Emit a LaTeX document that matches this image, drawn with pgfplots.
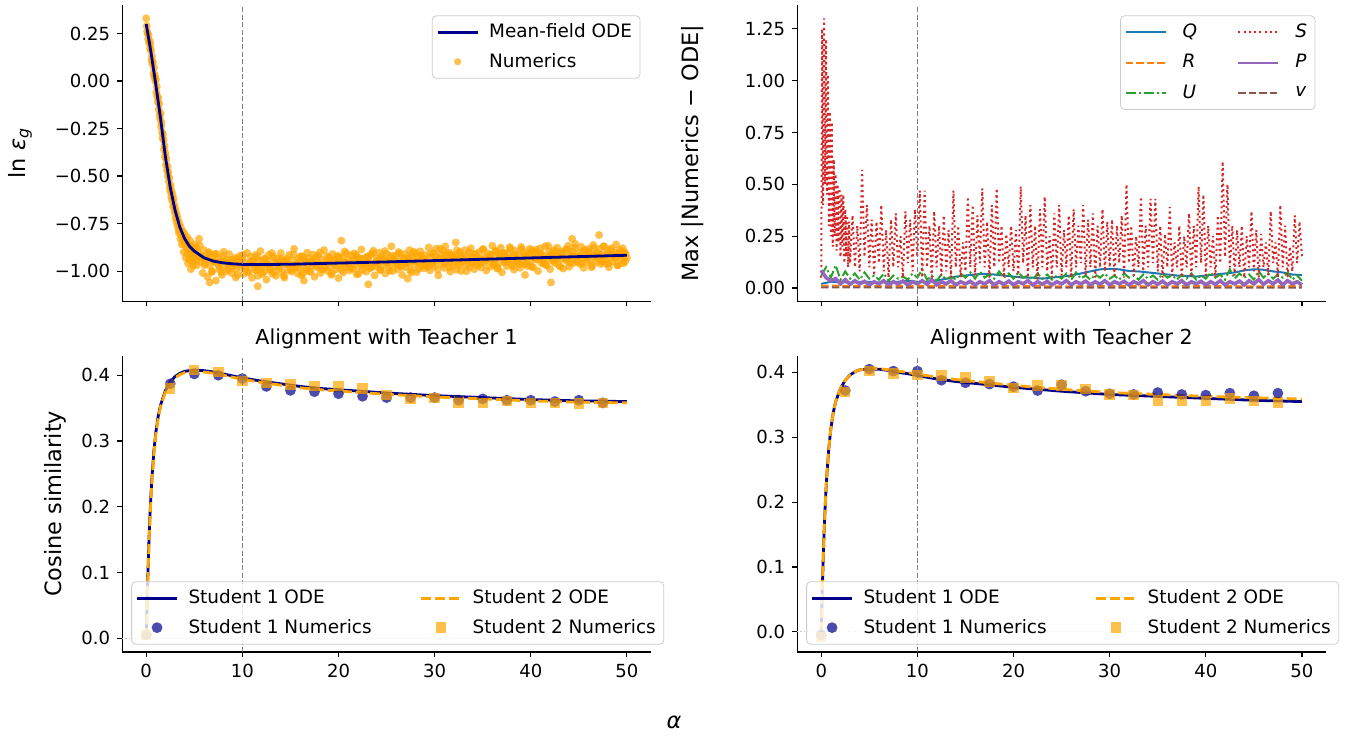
\documentclass[border=0pt]{standalone}
\usepackage{fontspec}
\setmainfont{DejaVu Sans}
\usepackage{pgfplots}
\pgfplotsset{compat=1.18}
\usepgfplotslibrary{groupplots}
\usetikzlibrary{calc}

\definecolor{odeblue}{HTML}{00008B}
\definecolor{numorange}{HTML}{FFA500}
\definecolor{tabblue}{HTML}{1F77B4}
\definecolor{taborange}{HTML}{FF7F0E}
\definecolor{tabgreen}{HTML}{2CA02C}
\definecolor{tabred}{HTML}{D62728}
\definecolor{tabpurple}{HTML}{9467BD}
\definecolor{tabbrown}{HTML}{8C564B}

\newcommand\ticksz{\fontsize{9}{10.5}\selectfont}
\newcommand\legsz{\fontsize{9.2}{11}\selectfont}
\newcommand\labsz{\fontsize{11.2}{13}\selectfont}
\newcommand\titsz{\fontsize{10.3}{12}\selectfont}

\pgfplotsset{
  panel/.style={
    width=264pt, height=148pt, scale only axis,
    xmin=-2.5, xmax=52.5, xtick={0,10,20,30,40,50},
    axis x line*=bottom, axis y line*=left,
    axis line style={line width=0.55pt},
    tick align=outside, major tick length=2.5pt,
    tick style={black, line width=0.55pt},
    tick label style={font=\ticksz},
    /pgf/number format/assume math mode=true,
    label style={font=\labsz},
    title style={font=\titsz, yshift=-6pt},
    clip marker paths=true,
    legend cell align=left,
    legend style={font=\legsz, draw=black!20, fill=white, fill opacity=0.8,
      text opacity=1, rounded corners=2pt, inner xsep=2pt, inner ysep=2pt,
      row sep=2.2pt,
      /tikz/every odd column/.append style={column sep=3pt}},
  },
  lineleg/.style={legend image code/.code={\draw[##1] (0pt,0pt) -- (20pt,0pt);}},
  markleg/.style={legend image code/.code={\draw[mark repeat=2,mark phase=2,##1] plot coordinates {(0pt,0pt) (10pt,0pt) (20pt,0pt)};}},
  vref/.style={gray, line width=0.5pt, dash pattern=on 2.5pt off 1.2pt, forget plot},
  zref/.style={gray!45, line width=0.4pt, dash pattern=on 0.6pt off 1pt, forget plot},
  ode1/.style={odeblue, line width=1.4pt},
  ode2/.style={numorange, line width=1.4pt, dash pattern=on 5pt off 2pt},
  num1/.style={only marks, color=odeblue, mark=*, mark size=2.7pt, mark options={draw opacity=0, fill opacity=0.7}},
  num2/.style={only marks, color=numorange, mark=square*, mark size=2.6pt, mark options={draw opacity=0, fill opacity=0.7}},
  scat/.style={only marks, color=numorange, mark=*, mark size=2pt, mark options={draw opacity=0, fill opacity=0.7}},
}

\begin{document}
\begin{tikzpicture}
\begin{groupplot}[group style={group size=2 by 2, horizontal sep=73pt, vertical sep=27pt}]

% ---------- ln eps_g ----------
\nextgroupplot[panel, ymin=-1.16, ymax=0.40,
  ytick={-1,-0.75,-0.5,-0.25,0,0.25},
  yticklabels={−1.00,−0.75,−0.50,−0.25,0.00,0.25},
  xticklabels={},
  ylabel={ln \textit{ε}\textsubscript{\textit{g}}},
  ylabel style={at={(axis description cs:-0.193,0.5)}, anchor=center},
  legend style={at={(0.98,0.965)}, anchor=north east}]
\addlegendimage{ode1, lineleg}
\addlegendentry{Mean-field ODE}
\addlegendimage{scat, mark size=1.8pt, markleg}
\addlegendentry{Numerics}
\addplot[scat, forget plot] coordinates {
(0,0.33) (0.05,0.29) (0.1,0.26) (0.15,0.25) (0.2,0.22) (0.25,0.24) (0.3,0.20) (0.35,0.21) (0.4,0.17) (0.45,0.19)
(0.5,0.16) (0.55,0.11) (0.6,0.13) (0.65,0.09) (0.7,0.10) (0.75,0.04) (0.8,0.07) (0.85,0.02) (0.9,0.03) (0.95,0.00)
(1.0,0.01) (1.05,-0.06) (1.1,-0.03) (1.15,-0.08) (1.2,-0.11) (1.25,-0.09) (1.3,-0.15) (1.35,-0.12) (1.4,-0.18) (1.45,-0.20)
(1.5,-0.17) (1.55,-0.24) (1.6,-0.22) (1.65,-0.27) (1.7,-0.30) (1.75,-0.28) (1.8,-0.31) (1.85,-0.36) (1.9,-0.34) (1.95,-0.40)
(2.0,-0.38) (2.05,-0.44) (2.1,-0.41) (2.15,-0.47) (2.2,-0.45) (2.25,-0.50) (2.3,-0.48) (2.35,-0.53) (2.4,-0.51) (2.45,-0.56)
(2.5,-0.58) (2.55,-0.55) (2.6,-0.61) (2.65,-0.58) (2.7,-0.63) (2.75,-0.60) (2.8,-0.66) (2.85,-0.62) (2.9,-0.65) (2.95,-0.69)
(3.0,-0.67) (3.05,-0.72) (3.1,-0.69) (3.15,-0.74) (3.2,-0.71) (3.25,-0.76) (3.3,-0.73) (3.35,-0.78) (3.4,-0.80) (3.45,-0.75)
(3.5,-0.79) (3.55,-0.83) (3.6,-0.77) (3.65,-0.81) (3.7,-0.86) (3.75,-0.79) (3.8,-0.84) (3.85,-0.82) (3.9,-0.90) (3.95,-0.80)
(4.0,-0.86) (4.05,-0.83) (4.1,-0.93) (4.15,-0.85) (4.2,-0.88) (4.25,-0.82) (4.3,-0.91) (4.35,-0.96) (4.4,-0.86) (4.45,-0.89)
(4.5,-0.94) (4.55,-0.84) (4.6,-0.90) (4.65,-0.99) (4.7,-0.87) (4.75,-0.92) (4.8,-0.95) (4.85,-0.88) (4.9,-0.97) (4.95,-0.91)
(5.0,-0.93) (5.125,-0.86) (5.25,-0.97) (5.375,-0.90) (5.5,-0.83) (5.625,-0.95) (5.75,-0.92) (5.875,-1.01) (6.0,-0.89) (6.125,-0.96)
(6.25,-0.94) (6.375,-1.03) (6.5,-0.90) (6.625,-0.97) (6.75,-0.93) (6.875,-1.00) (7.0,-0.95) (7.125,-0.91) (7.25,-1.05) (7.375,-0.96)
(7.5,-0.93) (7.625,-0.99) (7.75,-0.95) (7.875,-1.02) (8.0,-0.92) (8.125,-0.97) (8.25,-0.94) (8.375,-1.00) (8.5,-0.96) (8.625,-0.91)
(8.75,-0.98) (8.875,-1.01) (9.0,-0.94) (9.125,-0.97) (9.25,-0.93) (9.375,-0.99) (9.5,-1.02) (9.625,-0.95) (9.75,-0.92) (9.875,-0.98)
(5.2,-0.88) (6.6,-1.06) (11.6,-1.08) (20.3,-0.84) (23.1,-1.07) (32.2,-0.85) (31.1,-0.87) (42.1,-1.06) (47.1,-0.81) (44.3,-0.83) (39.4,-1.02) (16.4,-1.05) (27.2,-1.04)
(10.0,-0.935) (10.125,-1.015) (10.25,-0.955) (10.375,-0.985) (10.5,-0.905) (10.625,-1.005) (10.75,-0.965) (10.875,-0.925) (11.0,-1.035) (11.125,-0.945)
(11.25,-0.975) (11.375,-0.915) (11.5,-0.995) (11.625,-1.025) (11.75,-0.945) (11.875,-0.895) (12.0,-0.985) (12.125,-0.955) (12.25,-1.005) (12.375,-0.935)
(12.5,-1.045) (12.625,-0.965) (12.75,-0.915) (12.875,-0.995) (13.0,-0.945) (13.125,-1.015) (13.25,-0.925) (13.375,-0.975) (13.5,-1.025) (13.625,-0.935)
(13.75,-0.955) (13.875,-0.985) (14.0,-0.905) (14.125,-1.005) (14.25,-0.945) (14.375,-1.035) (14.5,-0.965) (14.625,-0.935) (14.75,-0.995) (14.875,-0.915)
(15.0,-0.973) (15.125,-1.003) (15.25,-0.943) (15.375,-0.883) (15.5,-0.983) (15.625,-0.963) (15.75,-1.013) (15.875,-0.933) (16.0,-0.953) (16.125,-1.023)
(16.25,-0.923) (16.375,-0.983) (16.5,-0.943) (16.625,-0.993) (16.75,-0.903) (16.875,-0.963) (17.0,-1.003) (17.125,-0.953) (17.25,-0.973) (17.375,-0.913)
(17.5,-1.03) (17.625,-0.93) (17.75,-0.98) (17.875,-0.92) (18.0,-0.96) (18.125,-1.01) (18.25,-0.94) (18.375,-0.99) (18.5,-0.89) (18.625,-0.97)
(18.75,-0.95) (18.875,-1.00) (19.0,-0.93) (19.125,-0.98) (19.25,-1.02) (19.375,-0.91) (19.5,-0.96) (19.625,-0.94) (19.75,-0.99) (19.875,-0.92)
(20.0,-1.037) (20.125,-0.947) (20.25,-0.967) (20.375,-0.927) (20.5,-1.007) (20.625,-0.897) (20.75,-0.977) (20.875,-0.957) (21.0,-0.937) (21.125,-0.997)
(21.25,-0.917) (21.375,-0.967) (21.5,-0.987) (21.625,-0.907) (21.75,-0.947) (21.875,-1.017) (22.0,-0.927) (22.125,-0.977) (22.25,-0.957) (22.375,-0.887)
(22.5,-0.993) (22.625,-0.933) (22.75,-0.963) (22.875,-1.003) (23.0,-0.923) (23.125,-0.943) (23.25,-0.983) (23.375,-0.913) (23.5,-0.973) (23.625,-0.893)
(23.75,-1.023) (23.875,-0.953) (24.0,-0.933) (24.125,-0.963) (24.25,-0.903) (24.375,-0.993) (24.5,-0.923) (24.625,-0.973) (24.75,-0.943) (24.875,-1.013)
(25.0,-0.91) (25.125,-0.95) (25.25,-0.98) (25.375,-0.93) (25.5,-0.87) (25.625,-1.00) (25.75,-0.94) (25.875,-0.96) (26.0,-0.92) (26.125,-0.99)
(26.25,-0.90) (26.375,-0.97) (26.5,-0.95) (26.625,-1.02) (26.75,-0.93) (26.875,-0.91) (27.0,-0.98) (27.125,-0.94) (27.25,-0.96) (27.375,-0.89)
(27.5,-0.996) (27.625,-0.916) (27.75,-0.946) (27.875,-0.966) (28.0,-0.906) (28.125,-1.006) (28.25,-0.926) (28.375,-0.956) (28.5,-0.896) (28.625,-0.976)
(28.75,-0.936) (28.875,-0.986) (29.0,-0.916) (29.125,-0.946) (29.25,-0.966) (29.375,-0.876) (29.5,-0.996) (29.625,-0.926) (29.75,-0.956) (29.875,-0.906)
(30.0,-0.973) (30.125,-0.883) (30.25,-0.943) (30.375,-1.023) (30.5,-0.933) (30.625,-0.913) (30.75,-0.963) (30.875,-0.893) (31.0,-0.983) (31.125,-0.923)
(31.25,-0.943) (31.375,-0.953) (31.5,-0.903) (31.625,-1.003) (31.75,-0.913) (31.875,-0.973) (32.0,-0.933) (32.125,-0.923) (32.25,-0.993) (32.375,-0.913)
(32.5,-0.96) (32.625,-0.90) (32.75,-1.00) (32.875,-0.93) (33.0,-0.95) (33.125,-0.89) (33.25,-0.97) (33.375,-0.92) (33.5,-0.94) (33.625,-0.98)
(33.75,-0.88) (33.875,-0.96) (34.0,-0.93) (34.125,-0.99) (34.25,-0.91) (34.375,-0.93) (34.5,-0.97) (34.625,-0.90) (34.75,-0.96) (34.875,-0.94)
(35.0,-0.887) (35.125,-0.957) (35.25,-0.927) (35.375,-0.997) (35.5,-0.907) (35.625,-0.937) (35.75,-0.977) (35.875,-0.917) (36.0,-0.867) (36.125,-0.967)
(36.25,-0.947) (36.375,-0.897) (36.5,-0.987) (36.625,-0.917) (36.75,-0.957) (36.875,-0.877) (37.0,-1.007) (37.125,-0.927) (37.25,-0.907) (37.375,-0.947)
(37.5,-0.973) (37.625,-0.903) (37.75,-0.943) (37.875,-0.883) (38.0,-0.963) (38.125,-0.923) (38.25,-0.993) (38.375,-0.893) (38.5,-0.933) (38.625,-0.953)
(38.75,-0.913) (38.875,-0.983) (39.0,-0.873) (39.125,-0.943) (39.25,-0.903) (39.375,-0.963) (39.5,-0.923) (39.625,-0.973) (39.75,-0.913) (39.875,-0.883)
(40.0,-0.95) (40.125,-0.89) (40.25,-0.98) (40.375,-0.93) (40.5,-0.90) (40.625,-0.94) (40.75,-1.00) (40.875,-0.91) (41.0,-0.88) (41.125,-0.96)
(41.25,-0.92) (41.375,-0.95) (41.5,-0.87) (41.625,-0.97) (41.75,-0.93) (41.875,-0.90) (42.0,-0.99) (42.125,-0.91) (42.25,-0.94) (42.375,-0.89)
(42.5,-0.957) (42.625,-0.917) (42.75,-0.877) (42.875,-0.967) (43.0,-0.907) (43.125,-0.937) (43.25,-0.897) (43.375,-0.987) (43.5,-0.927) (43.625,-0.887)
(43.75,-0.947) (43.875,-0.867) (44.0,-0.977) (44.125,-0.917) (44.25,-0.937) (44.375,-0.897) (44.5,-0.957) (44.625,-0.857) (44.75,-0.947) (44.875,-0.927)
(45.0,-0.903) (45.125,-0.963) (45.25,-0.873) (45.375,-0.933) (45.5,-0.983) (45.625,-0.893) (45.75,-0.923) (45.875,-0.953) (46.0,-0.883) (46.125,-0.943)
(46.25,-0.913) (46.375,-0.973) (46.5,-0.863) (46.625,-0.923) (46.75,-0.953) (46.875,-0.903) (47.0,-0.933) (47.125,-0.883) (47.25,-0.963) (47.375,-0.913)
(47.5,-0.94) (47.625,-0.87) (47.75,-0.96) (47.875,-0.91) (48.0,-0.89) (48.125,-0.98) (48.25,-0.92) (48.375,-0.88) (48.5,-0.95) (48.625,-0.90)
(48.75,-0.93) (48.875,-0.86) (49.0,-0.97) (49.125,-0.91) (49.25,-0.89) (49.375,-0.94) (49.5,-0.92) (49.625,-0.96) (49.75,-0.90) (49.875,-0.91) (50.0,-0.93)
(5.0625,-0.88) (5.3125,-0.94) (5.5625,-0.865) (5.8125,-0.93) (6.0625,-0.97) (6.3125,-0.925) (6.5625,-0.91) (6.8125,-1.005) (7.0625,-0.948) (7.3125,-0.91)
(7.5625,-0.973) (7.8125,-1.005) (8.0625,-0.898) (8.3125,-0.95) (8.5625,-0.99) (8.8125,-0.942) (9.0625,-0.973) (9.3125,-1.034) (9.5625,-0.935) (9.8125,-0.965)
(10.0625,-0.915) (10.3125,-0.985) (10.5625,-1.005) (10.8125,-0.955) (11.0625,-0.945) (11.3125,-0.995) (11.5625,-0.925) (11.8125,-0.975) (12.0625,-1.015) (12.3125,-0.935)
(12.5625,-0.965) (12.8125,-0.985) (13.0625,-0.905) (13.3125,-1.005) (13.5625,-0.955) (13.8125,-0.975) (14.0625,-0.935) (14.3125,-1.025) (14.5625,-0.945) (14.8125,-0.965)
(15.0625,-0.992) (15.3125,-0.912) (15.5625,-0.972) (15.8125,-0.982) (16.0625,-0.922) (16.3125,-1.012) (16.5625,-0.952) (16.8125,-0.932) (17.0625,-1.002) (17.3125,-0.942)
(17.5625,-0.962) (17.8125,-0.972) (18.0625,-0.902) (18.3125,-0.992) (18.5625,-0.982) (18.8125,-0.922) (19.0625,-0.952) (19.3125,-1.012) (19.5625,-0.942) (19.8125,-0.972)
(20.0625,-0.925) (20.3125,-0.995) (20.5625,-0.955) (20.8125,-0.905) (21.0625,-0.975) (21.3125,-0.985) (21.5625,-0.945) (21.8125,-0.915) (22.0625,-1.015) (22.3125,-0.935)
(22.5625,-0.965) (22.8125,-0.955) (23.0625,-0.925) (23.3125,-0.985) (23.5625,-0.905) (23.8125,-0.975) (24.0625,-0.945) (24.3125,-0.995) (24.5625,-0.935) (24.8125,-0.895)
(25.0625,-0.958) (25.3125,-0.998) (25.5625,-0.918) (25.8125,-0.948) (26.0625,-0.968) (26.3125,-0.908) (26.5625,-0.978) (26.8125,-0.938) (27.0625,-0.958) (27.3125,-0.928)
(27.5625,-1.008) (27.8125,-0.898) (28.0625,-0.948) (28.3125,-0.988) (28.5625,-0.918) (28.8125,-0.938) (29.0625,-0.968) (29.3125,-0.978) (29.5625,-0.908) (29.8125,-0.958)
(30.0625,-0.921) (30.3125,-0.991) (30.5625,-0.881) (30.8125,-0.941) (31.0625,-0.961) (31.3125,-0.911) (31.5625,-0.981) (31.8125,-0.931) (32.0625,-0.951) (32.3125,-0.891)
(32.5625,-0.971) (32.8125,-0.921) (33.0625,-0.941) (33.3125,-1.001) (33.5625,-0.901) (33.8125,-0.951) (34.0625,-0.911) (34.3125,-0.961) (34.5625,-0.931) (34.8125,-0.981)
(35.0625,-0.884) (35.3125,-0.944) (35.5625,-0.934) (35.8125,-0.914) (36.0625,-0.964) (36.3125,-0.894) (36.5625,-0.984) (36.8125,-0.924) (37.0625,-0.904) (37.3125,-0.954)
(37.5625,-0.934) (37.8125,-0.874) (38.0625,-0.974) (38.3125,-0.914) (38.5625,-0.944) (38.8125,-0.964) (39.0625,-0.884) (39.3125,-0.924) (39.5625,-0.954) (39.8125,-0.904)
(40.0625,-0.977) (40.3125,-0.927) (40.5625,-0.887) (40.8125,-0.937) (41.0625,-0.907) (41.3125,-0.957) (41.5625,-0.967) (41.8125,-0.867) (42.0625,-0.917) (42.3125,-0.947)
(42.5625,-0.897) (42.8125,-0.927) (43.0625,-0.977) (43.3125,-0.907) (43.5625,-0.937) (43.8125,-0.887) (44.0625,-0.957) (44.3125,-0.917) (44.5625,-0.877) (44.8125,-0.947)
(45.0625,-0.92) (45.3125,-0.96) (45.5625,-0.89) (45.8125,-0.93) (46.0625,-0.90) (46.3125,-0.98) (46.5625,-0.88) (46.8125,-0.92) (47.0625,-0.91) (47.3125,-0.95)
(47.5625,-0.87) (47.8125,-0.94) (48.0625,-0.96) (48.3125,-0.89) (48.5625,-0.91) (48.8125,-0.93) (49.0625,-0.97) (49.3125,-0.90) (49.5625,-0.88) (49.8125,-0.95)
};
\addplot[ode1, forget plot] coordinates {
(0,0.30) (0.5,0.15) (1.0,-0.02) (1.5,-0.20) (2.0,-0.40) (2.5,-0.56) (3.0,-0.68) (3.5,-0.77) (4.0,-0.83)
(4.5,-0.87) (5,-0.895) (6,-0.93) (7,-0.948) (8,-0.957) (9,-0.962) (10,-0.965) (12,-0.966) (15,-0.964)
(20,-0.958) (25,-0.952) (30,-0.945) (35,-0.938) (40,-0.931) (45,-0.924) (50,-0.917)};
\addplot[vref] coordinates {(10,-1.16) (10,0.40)};

% ---------- max |numerics - ODE| ----------
\nextgroupplot[panel, ymin=-0.065, ymax=1.365,
  ytick={0,0.25,0.5,0.75,1,1.25},
  yticklabel style={/pgf/number format/.cd, fixed, fixed zerofill, precision=2},
  xticklabels={},
  ylabel={Max |Numerics − ODE|},
  ylabel style={at={(axis description cs:-0.197,0.5)}, anchor=center},
  legend columns=2,
  legend style={at={(0.98,0.965)}, anchor=north east, row sep=3pt,
    /tikz/every odd column/.append style={column sep=6pt},
    /tikz/every even column/.append style={column sep=18pt}}]
\addlegendimage{tabblue, line width=1pt, lineleg}\addlegendentry{\textit{Q}}
\addlegendimage{tabred, line width=1pt, dash pattern=on 1pt off 1.65pt, lineleg}\addlegendentry{\textit{S}}
\addlegendimage{taborange, line width=1pt, dash pattern=on 3.7pt off 1.6pt, lineleg}\addlegendentry{\textit{R}}
\addlegendimage{tabpurple, line width=1pt, lineleg}\addlegendentry{\textit{P}}
\addlegendimage{tabgreen, line width=1pt, dash pattern=on 5pt off 1.5pt on 1pt off 1.5pt, lineleg}\addlegendentry{\textit{U}}
\addlegendimage{tabbrown, line width=1pt, dash pattern=on 3.7pt off 1.6pt, lineleg}\addlegendentry{\textit{v}}
% Q
\addplot[tabblue, line width=1pt, forget plot] coordinates {
(0,0.02) (1,0.03) (2,0.03) (3,0.025) (4,0.03) (5,0.03) (6,0.025) (7,0.03) (8,0.03) (9,0.035) (10,0.03)
(11,0.03) (12,0.035) (13,0.045) (14,0.055) (15,0.06) (16,0.065) (17,0.068) (18,0.065) (19,0.06) (20,0.055)
(21,0.05) (22,0.05) (23,0.045) (24,0.05) (25,0.055) (26,0.06) (27,0.07) (28,0.08) (29,0.09) (30,0.092)
(31,0.09) (32,0.082) (33,0.08) (34,0.075) (35,0.07) (36,0.065) (37,0.06) (38,0.058) (39,0.055) (40,0.06)
(41,0.065) (42,0.07) (43,0.075) (44,0.085) (45,0.09) (46,0.088) (47,0.08) (48,0.075) (49,0.065) (50,0.062)};
% R
\addplot[taborange, line width=1pt, dash pattern=on 3.7pt off 1.6pt, forget plot] coordinates {
(0,0.012) (5,0.009) (10,0.01) (15,0.008) (20,0.009) (25,0.008) (30,0.009) (35,0.008) (40,0.009) (45,0.008) (50,0.009)};
% U
\addplot[tabgreen, line width=1pt, dash pattern=on 5pt off 1.5pt on 1pt off 1.5pt, forget plot] coordinates {
(0,0.06) (0.5,0.10) (1,0.05) (1.5,0.11) (2,0.04) (2.5,0.08) (3,0.045) (3.5,0.07) (4,0.04) (4.5,0.075)
(5,0.045) (5.5,0.06) (6,0.04) (6.5,0.07) (7,0.035) (7.5,0.06) (8,0.045) (8.5,0.055) (9,0.04) (9.5,0.07)
(10,0.05) (10.5,0.09) (11,0.04) (11.5,0.06) (12,0.035) (12.5,0.065) (13,0.04) (13.5,0.055) (14,0.04) (14.5,0.07)
(15,0.05) (15.5,0.075) (16,0.045) (16.5,0.08) (17,0.05) (17.5,0.065) (18,0.045) (18.5,0.08) (19,0.05) (19.5,0.07)
(20,0.045) (20.5,0.075) (21,0.05) (21.5,0.06) (22,0.04) (22.5,0.07) (23,0.045) (23.5,0.065) (24,0.04) (24.5,0.06)
(25,0.045) (25.5,0.07) (26,0.04) (26.5,0.075) (27,0.045) (27.5,0.06) (28,0.04) (28.5,0.065) (29,0.05) (29.5,0.07)
(30,0.045) (30.5,0.06) (31,0.04) (31.5,0.07) (32,0.05) (32.5,0.06) (33,0.04) (33.5,0.065) (34,0.045) (34.5,0.06)
(35,0.04) (35.5,0.07) (36,0.05) (36.5,0.06) (37,0.04) (37.5,0.065) (38,0.045) (38.5,0.07) (39,0.04) (39.5,0.06)
(40,0.045) (40.5,0.075) (41,0.05) (41.5,0.065) (42,0.04) (42.5,0.09) (43,0.045) (43.5,0.07) (44,0.05) (44.5,0.065)
(45,0.04) (45.5,0.08) (46,0.05) (46.5,0.07) (47,0.045) (47.5,0.065) (48,0.05) (48.5,0.075) (49,0.04) (49.5,0.06) (50,0.035)};
% S
\addplot[tabred, line width=1pt, dash pattern=on 1pt off 1.65pt, forget plot] coordinates {
(0,0.05) (0.1,1.25) (0.2,0.4) (0.3,1.30) (0.4,0.5) (0.5,1.2) (0.6,0.45) (0.7,1.03) (0.8,0.3) (0.9,0.85)
(1.0,0.25) (1.1,0.80) (1.2,0.2) (1.3,0.62) (1.4,0.25) (1.5,0.55) (1.6,0.18) (1.7,0.50) (1.8,0.22) (1.9,0.48)
(2.0,0.15) (2.1,0.45) (2.2,0.2) (2.3,0.45) (2.4,0.12) (2.5,0.38) (2.6,0.15) (2.7,0.35) (2.8,0.1) (2.9,0.32)
(3.0,0.12) (3.25,0.35) (3.5,0.1) (3.75,0.3) (4.0,0.08) (4.25,0.57) (4.5,0.15) (4.75,0.4) (5.0,0.1) (5.25,0.33)
(5.5,0.06) (5.75,0.32) (6.0,0.12) (6.25,0.4) (6.5,0.08) (6.75,0.28) (7.0,0.05) (7.25,0.33) (7.5,0.1) (7.75,0.36)
(8.0,0.1) (8.25,0.25) (8.5,0.05) (8.75,0.37) (9.0,0.12) (9.25,0.33) (9.5,0.08) (9.75,0.38) (10.0,0.15) (10.25,0.47)
(10.5,0.05) (10.75,0.47) (11.0,0.1) (11.25,0.3) (11.5,0.04) (11.75,0.37) (12.0,0.1) (12.25,0.3) (12.5,0.06) (12.75,0.35)
(13.0,0.08) (13.25,0.28) (13.5,0.05) (13.75,0.47) (14.0,0.1) (14.25,0.3) (14.5,0.05) (14.75,0.22) (15.0,0.08) (15.25,0.44)
(15.5,0.1) (15.75,0.4) (16.0,0.06) (16.25,0.35) (16.5,0.12) (16.75,0.48) (17.0,0.1) (17.25,0.32) (17.5,0.05) (17.75,0.4)
(18.0,0.1) (18.25,0.48) (18.5,0.12) (18.75,0.3) (19.0,0.05) (19.25,0.26) (19.5,0.1) (19.75,0.3) (20.0,0.08) (20.25,0.28)
(20.5,0.05) (20.75,0.49) (21.0,0.12) (21.25,0.35) (21.5,0.05) (21.75,0.4) (22.0,0.1) (22.25,0.3) (22.5,0.04) (22.75,0.38)
(23.0,0.1) (23.25,0.44) (23.5,0.08) (23.75,0.25) (24.0,0.05) (24.25,0.36) (24.5,0.1) (24.75,0.4) (25.0,0.06) (25.25,0.28)
(25.5,0.1) (25.75,0.35) (26.0,0.05) (26.25,0.38) (26.5,0.1) (26.75,0.3) (27.0,0.12) (27.25,0.4) (27.5,0.06) (27.75,0.33)
(28.0,0.1) (28.25,0.36) (28.5,0.05) (28.75,0.3) (29.0,0.1) (29.25,0.38) (29.5,0.08) (29.75,0.32) (30.0,0.1) (30.25,0.33)
(30.5,0.06) (30.75,0.3) (31.0,0.12) (31.25,0.35) (31.5,0.05) (31.75,0.5) (32.0,0.12) (32.25,0.3) (32.5,0.06) (32.75,0.25)
(33.0,0.1) (33.25,0.44) (33.5,0.08) (33.75,0.3) (34.0,0.1) (34.25,0.43) (34.5,0.12) (34.75,0.43) (35.0,0.08) (35.25,0.3)
(35.5,0.05) (35.75,0.26) (36.0,0.1) (36.25,0.39) (36.5,0.06) (36.75,0.22) (37.0,0.1) (37.25,0.3) (37.5,0.05) (37.75,0.25)
(38.0,0.1) (38.25,0.36) (38.5,0.05) (38.75,0.3) (39.0,0.1) (39.25,0.49) (39.5,0.12) (39.75,0.45) (40.0,0.06) (40.25,0.3)
(40.5,0.1) (40.75,0.25) (41.0,0.05) (41.25,0.35) (41.5,0.12) (41.75,0.61) (42.0,0.15) (42.25,0.5) (42.5,0.1) (42.75,0.3)
(43.0,0.06) (43.25,0.28) (43.5,0.1) (43.75,0.3) (44.0,0.05) (44.25,0.25) (44.5,0.1) (44.75,0.37) (45.0,0.08) (45.25,0.28)
(45.5,0.05) (45.75,0.26) (46.0,0.1) (46.25,0.22) (46.5,0.06) (46.75,0.37) (47.0,0.12) (47.25,0.22) (47.5,0.05) (47.75,0.4)
(48.0,0.1) (48.25,0.3) (48.5,0.05) (48.75,0.2) (49.0,0.08) (49.25,0.35) (49.5,0.12) (49.75,0.32) (50.0,0.15)};
% P
\addplot[tabpurple, line width=1.8pt, forget plot] coordinates {
(0,0.085) (0.5,0.05) (1,0.035) (1.5,0.045) (2,0.02) (2.5,0.04) (3,0.018) (3.5,0.035) (4,0.02) (4.5,0.032)
(5,0.015) (5.5,0.03) (6,0.02) (6.5,0.035) (7,0.015) (7.5,0.03) (8,0.02) (8.5,0.033) (9,0.015) (9.5,0.03)
(10,0.02) (10.5,0.035) (11,0.018) (11.5,0.04) (12,0.015) (12.5,0.03) (13,0.02) (13.5,0.035) (14,0.015) (14.5,0.03)
(15,0.02) (15.5,0.032) (16,0.015) (16.5,0.03) (17,0.02) (17.5,0.035) (18,0.015) (18.5,0.03) (19,0.018) (19.5,0.033)
(20,0.015) (20.5,0.03) (21,0.02) (21.5,0.035) (22,0.015) (22.5,0.03) (23,0.018) (23.5,0.032) (24,0.015) (24.5,0.03)
(25,0.02) (25.5,0.035) (26,0.015) (26.5,0.03) (27,0.02) (27.5,0.033) (28,0.015) (28.5,0.03) (29,0.018) (29.5,0.035)
(30,0.015) (30.5,0.03) (31,0.02) (31.5,0.032) (32,0.015) (32.5,0.03) (33,0.02) (33.5,0.035) (34,0.015) (34.5,0.03)
(35,0.018) (35.5,0.033) (36,0.015) (36.5,0.03) (37,0.02) (37.5,0.035) (38,0.015) (38.5,0.03) (39,0.02) (39.5,0.032)
(40,0.015) (40.5,0.03) (41,0.018) (41.5,0.035) (42,0.015) (42.5,0.03) (43,0.02) (43.5,0.033) (44,0.015) (44.5,0.035)
(45,0.02) (45.5,0.04) (46,0.018) (46.5,0.035) (47,0.02) (47.5,0.038) (48,0.015) (48.5,0.035) (49,0.02) (49.5,0.03) (50,0.015)};
% v
\addplot[tabbrown, line width=1pt, dash pattern=on 3.7pt off 1.6pt, forget plot] coordinates {
(0,0.003) (10,0.002) (20,0.002) (30,0.002) (40,0.002) (50,0.002)};
\addplot[vref] coordinates {(10,-0.065) (10,1.365)};

% ---------- Teacher 1 ----------
\nextgroupplot[panel, ymin=-0.021, ymax=0.43,
  ytick={0,0.1,0.2,0.3,0.4},
  yticklabel style={/pgf/number format/.cd, fixed, fixed zerofill, precision=1},
  title={Alignment with Teacher 1},
  ylabel={Cosine similarity},
  ylabel style={at={(axis description cs:-0.127,0.5)}, anchor=center},
  legend columns=2,
  legend style={at={(1.025,0.025)}, anchor=south east,
    /tikz/every even column/.append style={column sep=22pt}}]
\addlegendimage{ode1, lineleg}\addlegendentry{Student 1 ODE}
\addlegendimage{ode2, lineleg}\addlegendentry{Student 2 ODE}
\addlegendimage{num1, markleg}\addlegendentry{Student 1 Numerics}
\addlegendimage{num2, markleg}\addlegendentry{Student 2 Numerics}
\addplot[zref] coordinates {(-2.5,0) (52.5,0)};
\addplot[ode1, forget plot] coordinates {
(0,0) (0.1,0.06) (0.2,0.11) (0.3,0.155) (0.4,0.19) (0.5,0.22) (0.6,0.245) (0.8,0.285) (1,0.313) (1.25,0.338)
(1.5,0.355) (2,0.377) (2.5,0.39) (3,0.398) (3.5,0.403) (4,0.406) (5,0.408) (6,0.407) (7,0.405) (8,0.402)
(9,0.399) (10,0.396) (12,0.391) (14,0.387) (16,0.383) (18,0.380) (20,0.378) (25,0.373) (30,0.369) (35,0.366)
(40,0.363) (45,0.361) (50,0.360)};
\addplot[ode2, forget plot] coordinates {
(0,0) (0.1,0.055) (0.2,0.105) (0.3,0.15) (0.4,0.185) (0.5,0.215) (0.6,0.24) (0.8,0.28) (1,0.31) (1.25,0.335)
(1.5,0.353) (2,0.375) (2.5,0.388) (3,0.396) (3.5,0.401) (4,0.404) (5,0.406) (6,0.405) (7,0.403) (8,0.400)
(9,0.397) (10,0.394) (12,0.389) (14,0.385) (16,0.381) (18,0.378) (20,0.376) (25,0.371) (30,0.367) (35,0.364)
(40,0.361) (45,0.359) (50,0.358)};
\addplot[num1, forget plot] coordinates {
(0,0.005) (2.5,0.387) (5,0.402) (7.5,0.400) (10,0.395) (12.5,0.383) (15,0.377) (17.5,0.375) (20,0.372) (22.5,0.368)
(25,0.366) (27.5,0.366) (30,0.366) (32.5,0.362) (35,0.364) (37.5,0.362) (40,0.362) (42.5,0.360) (45,0.362) (47.5,0.358)};
\addplot[num2, forget plot] coordinates {
(0,0.005) (2.5,0.380) (5,0.408) (7.5,0.405) (10,0.391) (12.5,0.388) (15,0.386) (17.5,0.384) (20,0.384) (22.5,0.380)
(25,0.370) (27.5,0.364) (30,0.365) (32.5,0.358) (35,0.358) (37.5,0.361) (40,0.358) (42.5,0.358) (45,0.357) (47.5,0.358)};
\addplot[vref] coordinates {(10,-0.021) (10,0.43)};

% ---------- Teacher 2 ----------
\nextgroupplot[panel, ymin=-0.031, ymax=0.426,
  ytick={0,0.1,0.2,0.3,0.4},
  yticklabel style={/pgf/number format/.cd, fixed, fixed zerofill, precision=1},
  title={Alignment with Teacher 2},
  legend columns=2,
  legend style={at={(1.025,0.025)}, anchor=south east,
    /tikz/every even column/.append style={column sep=22pt}}]
\addlegendimage{ode1, lineleg}\addlegendentry{Student 1 ODE}
\addlegendimage{ode2, lineleg}\addlegendentry{Student 2 ODE}
\addlegendimage{num1, markleg}\addlegendentry{Student 1 Numerics}
\addlegendimage{num2, markleg}\addlegendentry{Student 2 Numerics}
\addplot[zref] coordinates {(-2.5,0) (52.5,0)};
\addplot[ode1, forget plot] coordinates {
(0,0) (0.1,0.06) (0.2,0.11) (0.3,0.155) (0.4,0.19) (0.5,0.22) (0.6,0.245) (0.8,0.285) (1,0.313) (1.25,0.338)
(1.5,0.355) (2,0.375) (2.5,0.388) (3,0.396) (3.5,0.401) (4,0.404) (5,0.405) (6,0.405) (7,0.403) (8,0.400)
(9,0.398) (10,0.395) (12,0.390) (14,0.386) (16,0.383) (18,0.380) (20,0.377) (25,0.371) (30,0.366) (35,0.363)
(40,0.360) (45,0.357) (50,0.355)};
\addplot[ode2, forget plot] coordinates {
(0,0) (0.1,0.06) (0.2,0.11) (0.3,0.155) (0.4,0.19) (0.5,0.22) (0.6,0.245) (0.8,0.285) (1,0.313) (1.25,0.338)
(1.5,0.355) (2,0.375) (2.5,0.388) (3,0.396) (3.5,0.401) (4,0.404) (5,0.406) (6,0.406) (7,0.404) (8,0.402)
(9,0.400) (10,0.397) (12,0.393) (14,0.389) (16,0.386) (18,0.383) (20,0.380) (25,0.374) (30,0.369) (35,0.366)
(40,0.363) (45,0.361) (50,0.359)};
\addplot[num1, forget plot] coordinates {
(0,-0.005) (2.5,0.372) (5,0.405) (7.5,0.402) (10,0.402) (12.5,0.388) (15,0.384) (17.5,0.382) (20,0.378) (22.5,0.372)
(25,0.381) (27.5,0.371) (30,0.367) (32.5,0.366) (35,0.369) (37.5,0.366) (40,0.365) (42.5,0.368) (45,0.364) (47.5,0.368)};
\addplot[num2, forget plot] coordinates {
(0,-0.008) (2.5,0.370) (5,0.402) (7.5,0.398) (10,0.396) (12.5,0.395) (15,0.392) (17.5,0.386) (20,0.376) (22.5,0.380)
(25,0.380) (27.5,0.374) (30,0.366) (32.5,0.365) (35,0.357) (37.5,0.356) (40,0.356) (42.5,0.360) (45,0.356) (47.5,0.353)};
\addplot[vref] coordinates {(10,-0.031) (10,0.426)};
\end{groupplot}

\node[font=\labsz] at ($(group c1r2.south west)+(275.5pt,-35pt)$) {\textit{α}};
\pgfresetboundingbox
\path ($(group c1r2.south west)+(-61pt,-44pt)$) rectangle ($(group c2r1.north east)+(10pt,2.5pt)$);
\end{tikzpicture}
\end{document}
